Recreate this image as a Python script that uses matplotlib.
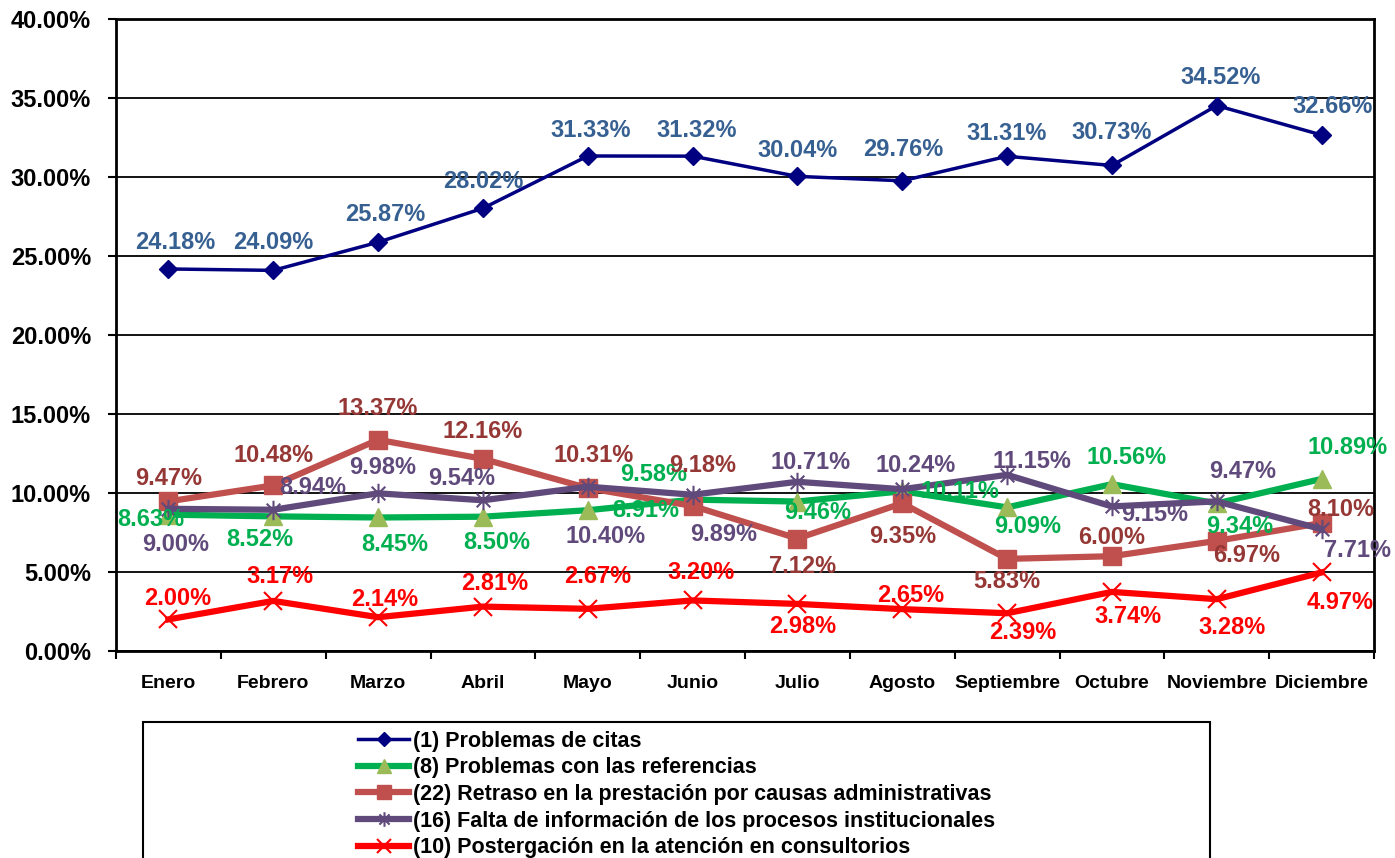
import matplotlib
matplotlib.use("Agg")
import matplotlib.pyplot as plt
from matplotlib import font_manager as fm
from matplotlib.patches import Rectangle
from matplotlib.path import Path
from matplotlib.ticker import FixedLocator, PercentFormatter

months = ["Enero", "Febrero", "Marzo", "Abril", "Mayo", "Junio", "Julio",
          "Agosto", "Septiembre", "Octubre", "Noviembre", "Diciembre"]

citas = [24.18, 24.09, 25.87, 28.02, 31.33, 31.32, 30.04, 29.76, 31.31, 30.73, 34.52, 32.66]
referencias = [8.63, 8.52, 8.45, 8.50, 8.91, 9.58, 9.46, 10.11, 9.09, 10.56, 9.34, 10.89]
retraso = [9.47, 10.48, 13.37, 12.16, 10.31, 9.18, 7.12, 9.35, 5.83, 6.00, 6.97, 8.10]
falta_info = [9.00, 8.94, 9.98, 9.54, 10.40, 9.89, 10.71, 10.24, 11.15, 9.15, 9.47, 7.71]
postergacion = [2.00, 3.17, 2.14, 2.81, 2.67, 3.20, 2.98, 2.65, 2.39, 3.74, 3.28, 4.97]

series_names = [
    "(1) Problemas de citas",
    "(8) Problemas con las referencias",
    "(22) Retraso en la prestación por causas administrativas",
    "(16) Falta de información de los procesos institucionales",
    "(10) Postergación en la atención en consultorios",
]

# label offsets in pixels (dx, dy up) relative to each point
off_citas = [(7, 26), (0, 28), (7, 28), (0, 27), (3, 25), (4, 26), (0, 26),
             (1, 31), (0, 23), (0, 33), (4, 28), (11, 28)]
off_ref = [(-18, -5), (-13, -23), (17, -27), (14, -26), (58, 0), (-39, 25),
           (20, -11), (58, 0), (21, -19), (15, 27), (23, -23), (26, 31)]
off_ret = [(0, 23), (0, 30), (0, 31), (0, 27), (6, 33), (10, 40), (5, -28),
           (0, -33), (0, -23), (0, 19), (30, -15), (19, 14)]
off_falta = [(7, -36), (39, 22), (5, 26), (-21, 22), (18, -50), (31, -40),
             (13, 19), (13, 24), (25, 13), (43, -8), (26, 30), (36, -21)]
off_post = [(9, 21), (7, 24), (7, 18), (12, 23), (10, 32), (8, 28), (5, -23),
            (8, 14), (16, -19), (16, -25), (15, -28), (19, -30)]

installed = {f.name for f in fm.fontManager.ttflist}
base_font = "Liberation Sans" if "Liberation Sans" in installed else "DejaVu Sans"
plt.rcParams["font.family"] = base_font
plt.rcParams["font.weight"] = "bold"

# Excel-style star: an x plus a vertical stroke
star = Path([(0, -1), (0, 1), (-0.7, -0.7), (0.7, 0.7), (-0.7, 0.7), (0.7, -0.7)],
            [Path.MOVETO, Path.LINETO, Path.MOVETO, Path.LINETO, Path.MOVETO, Path.LINETO])

fig = plt.figure(figsize=(13.95, 8.58), dpi=100)
ax = fig.add_axes([116 / 1395, 1 - 651 / 858, (1374 - 116) / 1395, (651 - 19) / 858])

x = list(range(len(months)))
styles = [
    (citas, off_citas, dict(color="#000080", lw=2.5, marker="D", ms=9,
                            mfc="#000080", mec="#000080"), "#376092"),
    (referencias, off_ref, dict(color="#00B050", lw=4.5, marker="^", ms=13,
                                mfc="#9BBB59", mec="#9BBB59"), "#00B050"),
    (retraso, off_ret, dict(color="#C0504D", lw=4.5, marker="s", ms=13,
                            mfc="#C0504D", mec="#C0504D"), "#953735"),
    (falta_info, off_falta, dict(color="#604A7B", lw=4.5, marker=star, ms=14,
                                 mfc="none", mec="#604A7B", mew=1.5), "#604A7B"),
    (postergacion, off_post, dict(color="#FF0000", lw=4.5, marker="x", ms=13,
                                  mec="#FF0000", mew=1.5), "#FF0000"),
]

handles = []
for (vals, offs, kw, tcol), name in zip(styles, series_names):
    h, = ax.plot(x, vals, label=name, zorder=3, **kw)
    handles.append(h)
    for xi, v, (dx, dy) in zip(x, vals, offs):
        ax.annotate(f"{v:.2f}%", (xi, v), xytext=(dx, dy), textcoords="offset pixels",
                    ha="center", va="center", color=tcol, fontsize=17,
                    fontweight="bold", zorder=5)

ax.set_xlim(-0.5, len(months) - 0.5)
ax.set_ylim(0, 40)
ax.yaxis.set_major_locator(FixedLocator([0, 5, 10, 15, 20, 25, 30, 35, 40]))
ax.yaxis.set_major_formatter(PercentFormatter(decimals=2))
ax.grid(axis="y", color="black", lw=1.3, zorder=1)
ax.set_xticks(x)
ax.set_xticklabels(months)
ax.set_xticks([i - 0.5 for i in range(len(months) + 1)], minor=True)
ax.tick_params(axis="x", which="major", length=0, pad=17, labelsize=14)
ax.tick_params(axis="x", which="minor", length=6, width=1.5)
ax.tick_params(axis="y", length=6, width=1.5, pad=12, labelsize=17)
for lab in ax.get_xticklabels() + ax.get_yticklabels():
    lab.set_fontweight("bold")
for sp in ax.spines.values():
    sp.set_linewidth(2)
    sp.set_color("black")

# legend box, running off the bottom edge like the reference
fig.patches.append(Rectangle((143 / 1395, -0.05), (1210 - 143) / 1395,
                             0.05 + (858 - 722) / 858, transform=fig.transFigure,
                             fill=False, edgecolor="black", lw=1.5))
fig.legend(handles=handles, loc="upper left", bbox_to_anchor=(347 / 1395, 1 - 720 / 858),
           frameon=False, prop={"family": base_font, "weight": "bold", "size": 15.5},
           handlelength=2.4, handletextpad=0.15, labelspacing=0.26, borderpad=0,
           markerscale=0.75)

fig.savefig("out.png", dpi=100)
